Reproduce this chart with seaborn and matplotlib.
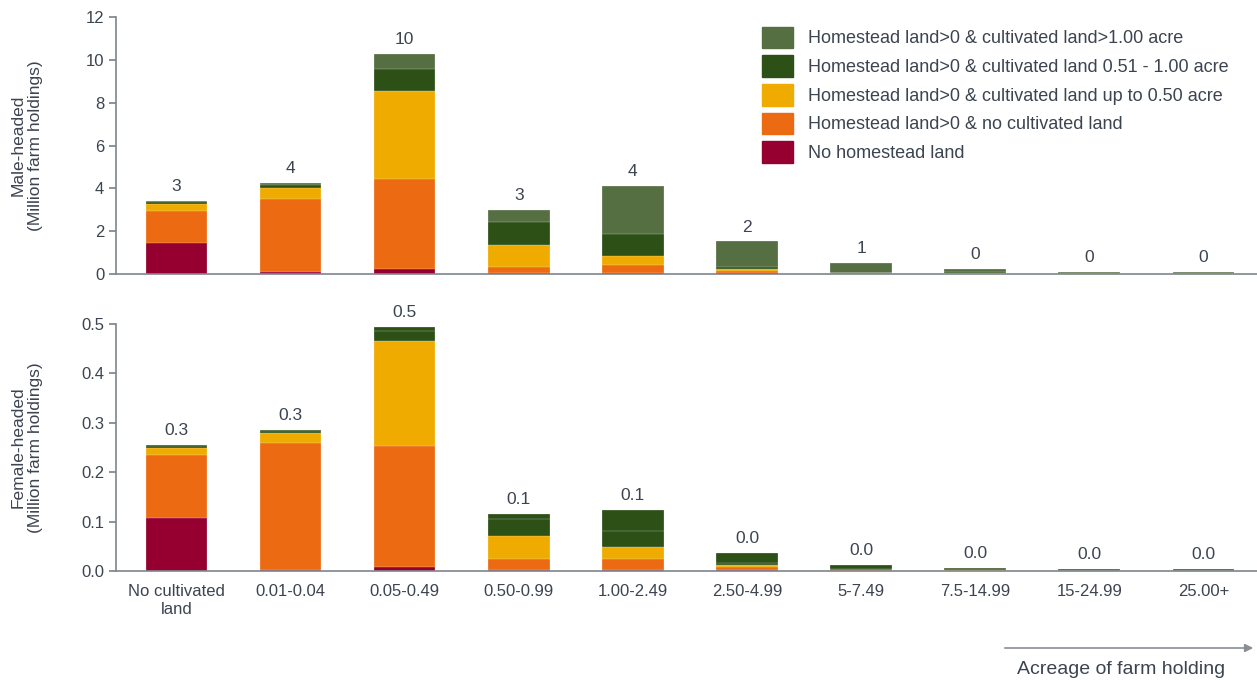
import numpy as np
import pandas as pd
import matplotlib
matplotlib.use("Agg")
import matplotlib.pyplot as plt
import seaborn as sns

# 카테고리 (acreage of farm holding)
categories = ["No cultivated\nland", "0.01-0.04", "0.05-0.49", "0.50-0.99", "1.00-2.49",
              "2.50-4.99", "5-7.49", "7.5-14.99", "15-24.99", "25.00+"]

series_names = [
    "No homestead land",
    "Homestead land>0 & no cultivated land",
    "Homestead land>0 & cultivated land up to 0.50 acre",
    "Homestead land>0 & cultivated land 0.51 - 1.00 acre",
    "Homestead land>0 & cultivated land>1.00 acre",
]

# Male-headed (million farm holdings), bottom -> top
male_no_home = [1.43, 0.09, 0.22, 0.06, 0.06, 0.04, 0.01, 0.01, 0.005, 0.005]
male_no_cult = [1.52, 3.43, 4.23, 0.28, 0.36, 0.12, 0.02, 0.01, 0.01, 0.01]
male_upto050 = [0.31, 0.51, 4.11, 1.01, 0.42, 0.09, 0.01, 0.01, 0.01, 0.01]
male_051_100 = [0.09, 0.14, 1.00, 1.09, 1.01, 0.09, 0.03, 0.05, 0.02, 0.02]
male_over100 = [0.06, 0.09, 0.70, 0.53, 2.26, 1.18, 0.45, 0.14, 0.04, 0.04]

# Female-headed (million farm holdings), bottom -> top
female_no_home = [0.107, 0.002, 0.009, 0.003, 0.003, 0.002, 0.0005, 0.0005, 0.0003, 0.0003]
female_no_cult = [0.129, 0.258, 0.245, 0.022, 0.022, 0.006, 0.001, 0.0005, 0.0003, 0.0003]
female_upto050 = [0.013, 0.020, 0.2125, 0.047, 0.024, 0.004, 0.0005, 0.0005, 0.0003, 0.0003]
female_051_100 = [0.004, 0.004, 0.019, 0.034, 0.032, 0.004, 0.003, 0.002, 0.001, 0.001]
female_over100 = [0.002, 0.002, 0.008, 0.009, 0.042, 0.021, 0.007, 0.003, 0.002, 0.002]

male_colors = ["#950030", "#EC6B12", "#F0AB00", "#2D5016", "#566F42"]
female_colors = ["#950030", "#EC6B12", "#F0AB00", "#2D5016", "#2D5016"]

sns.set_theme(style="white")
plt.rcParams["font.family"] = ["Liberation Sans", "DejaVu Sans"]
text_col = "#3c4450"
axis_col = "#7f858c"

fig = plt.figure(figsize=(12.57, 6.8), dpi=100)
ax_m = fig.add_axes([0.0923, 0.597, 0.9077, 0.378])
ax_f = fig.add_axes([0.0923, 0.160, 0.9077, 0.3635])


def stacked(ax, layers, colors, fmt):
    df = pd.DataFrame({"cat": categories})
    cum = np.zeros(len(categories))
    cums = []
    for lay in layers:
        cum = cum + np.array(lay)
        cums.append(cum.copy())
    # 위에서부터 누적값으로 덮어 그리기
    for i in range(len(layers) - 1, -1, -1):
        df["v"] = cums[i]
        sns.barplot(data=df, x="cat", y="v", color=colors[i], width=0.54,
                    edgecolor=(1, 1, 1, 0.6), linewidth=0.3, saturation=1, ax=ax)
    totals = cums[-1]
    for j, t in enumerate(totals):
        ax.annotate(fmt.format(t), (j, t), xytext=(0, 5), textcoords="offset points",
                    ha="center", va="bottom", fontsize=12.5, color=text_col)
    ax.set_xlim(-0.53, 9.47)
    ax.set_xlabel("")
    for s in ["top", "right"]:
        ax.spines[s].set_visible(False)
    for s in ["left", "bottom"]:
        ax.spines[s].set_color(axis_col)
        ax.spines[s].set_linewidth(1.2)
    ax.tick_params(axis="y", which="both", left=True, length=5, color=axis_col,
                   labelsize=12, labelcolor=text_col)
    ax.tick_params(axis="x", bottom=False, labelsize=12, labelcolor=text_col)


stacked(ax_m, [male_no_home, male_no_cult, male_upto050, male_051_100, male_over100],
        male_colors, "{:.0f}")
ax_m.set_ylim(0, 12)
ax_m.set_yticks(np.arange(0, 13, 2))
ax_m.set_xticklabels([])
ax_m.set_ylabel("Male-headed\n(Million farm holdings)", fontsize=12.5, color=text_col)

stacked(ax_f, [female_no_home, female_no_cult, female_upto050, female_051_100, female_over100],
        female_colors, "{:.1f}")
ax_f.set_ylim(0, 0.5)
ax_f.set_yticks(np.arange(0, 0.51, 0.1))
ax_f.set_yticklabels([f"{v:.1f}" for v in np.arange(0, 0.51, 0.1)])
ax_f.set_ylabel("Female-headed\n(Million farm holdings)", fontsize=12.5, color=text_col)
ax_f.tick_params(axis="x", pad=3)
for lbl in ax_f.get_xticklabels():
    lbl.set_linespacing(1.3)

for a in (ax_m, ax_f):
    a.yaxis.set_label_coords(-0.064, 0.5)

# 범례
handles = [plt.Rectangle((0, 0), 1, 1, color=c) for c in male_colors]
ax_m.legend(handles[::-1], series_names[::-1], loc="upper left", bbox_to_anchor=(0.56, 0.99),
            frameon=False, fontsize=13, handlelength=1.72, handleheight=1.45,
            labelspacing=0.4, handletextpad=0.8, borderaxespad=0, labelcolor=text_col)

# 하단 화살표
fig.add_artist(matplotlib.patches.FancyArrowPatch(
    (1002 / 1257, 1 - 648 / 680), (1256 / 1257, 1 - 648 / 680), transform=fig.transFigure,
    arrowstyle="-|>", mutation_scale=12, color="#8a8f96", lw=1.2))
fig.text(1225 / 1257, 1 - 670 / 680, "Acreage of farm holding", ha="right", va="center",
         fontsize=14, color=text_col)

fig.savefig("out.png", dpi=100)
